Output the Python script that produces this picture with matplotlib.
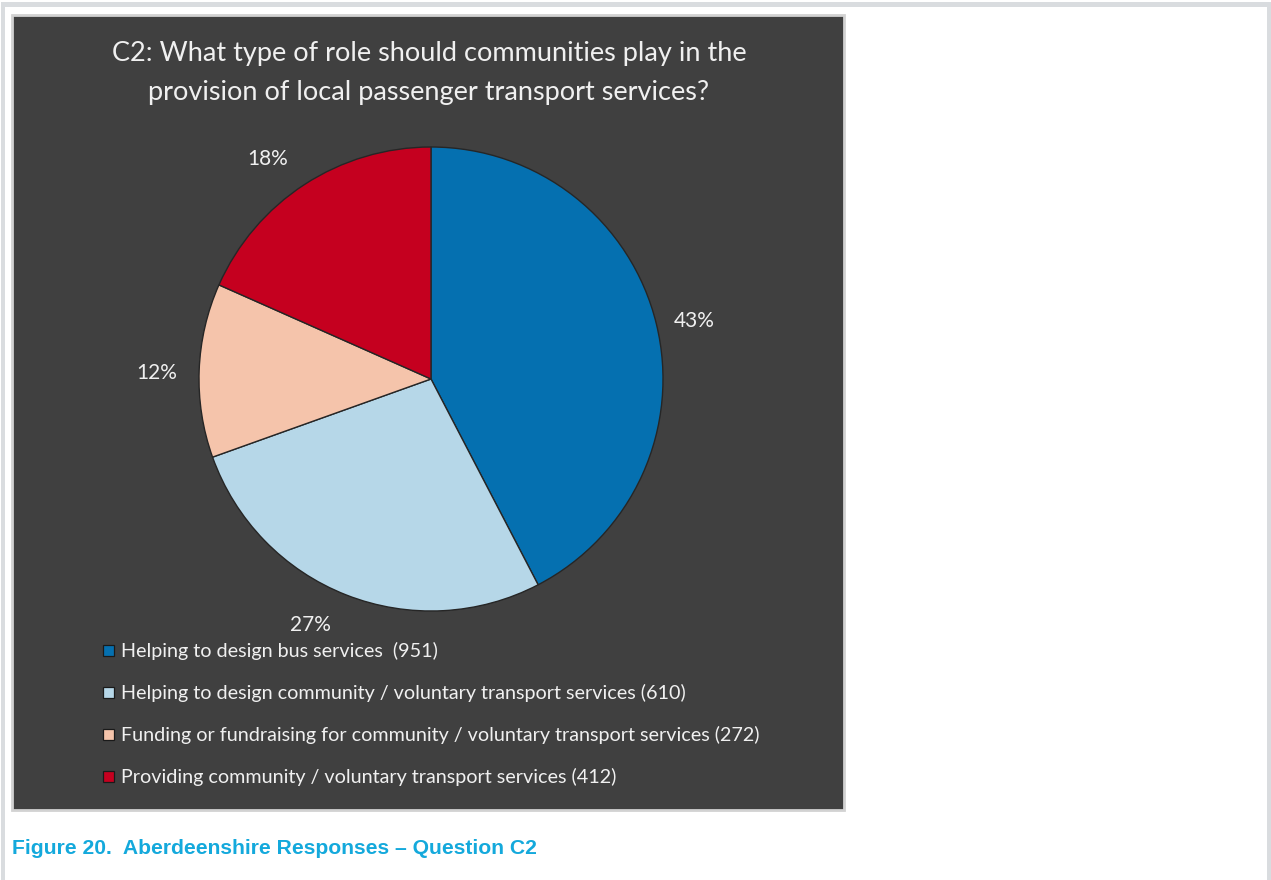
import matplotlib

matplotlib.use("Agg")
import matplotlib.pyplot as plt
from matplotlib.patches import Rectangle

# survey responses, question C2
categories = [
    "Helping to design bus services ",
    "Helping to design community / voluntary transport services",
    "Funding or fundraising for community / voluntary transport services",
    "Providing community / voluntary transport services",
]
counts = [951, 610, 272, 412]
pct_labels = ["43%", "27%", "12%", "18%"]
colors = ["#0570b0", "#b6d7e8", "#f5c4ab", "#c5001f"]

title = ("C2: What type of role should communities play in the\n"
         "provision of local passenger transport services?")
caption = "Figure 20.  Aberdeenshire Responses \u2013 Question C2"

W, H = 1271, 880
fig = plt.figure(figsize=(W / 100, H / 100), dpi=100)
fig.patch.set_facecolor("white")


def px_rect(x0, y0, x1, y1, zorder=-1, **kw):
    # rectangle given in pixel coords measured from the top-left
    r = Rectangle((x0 / W, 1 - y1 / H), (x1 - x0) / W, (y1 - y0) / H,
                  transform=fig.transFigure, zorder=zorder, **kw)
    fig.add_artist(r)
    return r


# page frame
frame = "#d9dcdf"
px_rect(1, 2, 1271, 7, facecolor=frame, edgecolor="none")
px_rect(1, 2, 5, 880, facecolor=frame, edgecolor="none")
px_rect(1267, 2, 1271, 880, facecolor=frame, edgecolor="none")

# dark chart panel
px_rect(12, 15, 844, 810, facecolor="#404040", edgecolor="#d2d2d2",
        linewidth=2)

txt_color = "#f0f0f0"
font = "Lato"

fig.text(429 / W, 1 - 73 / H, title, ha="center", va="center",
         fontsize=19.5, color=txt_color, family=font, linespacing=1.7)

# pie
cx, cy, r = 431, 379, 232
ax = fig.add_axes([(cx - r) / W, (H - cy - r) / H, 2 * r / W, 2 * r / H])
ax.set_facecolor("none")
ax.set_zorder(2)
wedges, texts = ax.pie(
    counts,
    labels=pct_labels,
    colors=colors,
    startangle=90,
    counterclock=False,
    labeldistance=1.17,
    radius=1,
    wedgeprops=dict(edgecolor="#262626", linewidth=1.0),
    textprops=dict(color=txt_color, fontsize=15, family=font),
)
# small best-fit style nudges for the outside labels (pixels)
nudges = [(0, -7), (-21, 7), (-3, -4), (-15, -8)]
for t, (dx, dy) in zip(texts, nudges):
    x, y = t.get_position()
    t.set_position((x + dx / r, y + dy / r))
    t.set_ha("center")
    t.set_va("center")
ax.set_xlim(-1, 1)
ax.set_ylim(-1, 1)
ax.set_aspect("equal")
ax.axis("off")

# legend rows
for i, (cat, n, c) in enumerate(zip(categories, counts, colors)):
    y = 651 + i * 42
    px_rect(103, y - 6, 114, y + 5, zorder=3, facecolor=c,
            edgecolor="#1a1a1a", linewidth=0.9)
    fig.text(121 / W, 1 - y / H, f"{cat} ({n})", ha="left", va="center",
             fontsize=14.2, color=txt_color, family=font)

fig.text(12 / W, 1 - 848 / H, caption, ha="left", va="center",
         fontsize=15.2, fontweight="bold", color="#14a9dc",
         family="Liberation Sans")

fig.savefig("out.png", dpi=100)
